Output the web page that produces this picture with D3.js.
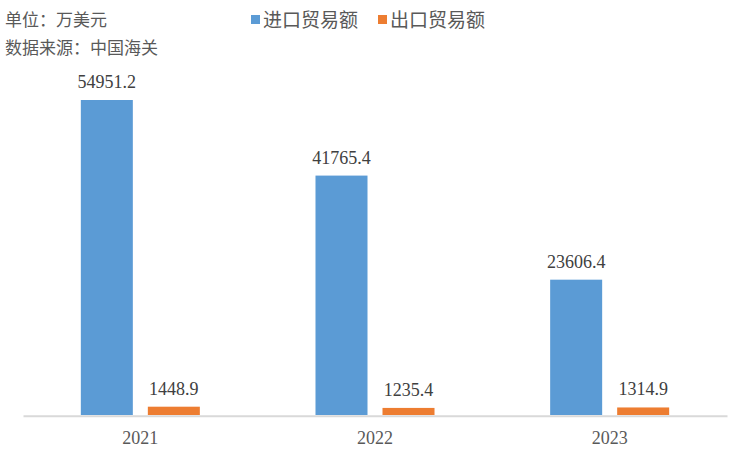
<!DOCTYPE html>
<html>
<head>
<meta charset="utf-8">
<script src="https://cdn.jsdelivr.net/npm/d3@7"></script>
<style>
  html, body { margin: 0; padding: 0; background: #fff; }
  svg { display: block; }
</style>
</head>
<body>
<svg id="chart" width="750" height="451"></svg>
<script>
const categories = ["2021", "2022", "2023"];
const seriesNames = ["进口贸易额", "出口贸易额"];
const importValues = [54951.2, 41765.4, 23606.4];
const exportValues = [1448.9, 1235.4, 1314.9];
const seriesColors = ["#5B9BD5", "#ED7D31"];
const unitText = "单位：万美元";
const sourceText = "数据来源：中国海关";

const svg = d3.select("#chart");
const cjk = "'Microsoft YaHei','Noto Sans CJK SC','Noto Sans',sans-serif";
const serif = "'Liberation Serif','Times New Roman',serif";

const x0 = d3.scaleBand().domain(categories).range([23, 727]).paddingInner(0).paddingOuter(0);
const x1 = d3.scaleBand().domain(seriesNames).range([0, x0.bandwidth()])
  .paddingInner(15 / 67).paddingOuter(0.863);
const y = d3.scaleLinear().domain([0, 60000]).range([415, 415 - 60000 * 315 / 54951.2]);

const data = categories.map((c, i) => ({
  cat: c,
  vals: [
    { s: seriesNames[0], v: importValues[i], color: seriesColors[0] },
    { s: seriesNames[1], v: exportValues[i], color: seriesColors[1] }
  ]
}));

const g = svg.append("g");
const groups = g.selectAll("g.grp").data(data).join("g")
  .attr("class", "grp")
  .attr("transform", d => `translate(${x0(d.cat)},0)`);

groups.selectAll("rect").data(d => d.vals).join("rect")
  .attr("x", d => x1(d.s))
  .attr("width", x1.bandwidth())
  .attr("y", d => y(d.v))
  .attr("height", d => y(0) - y(d.v))
  .attr("fill", d => d.color);

groups.selectAll("text.val").data(d => d.vals).join("text")
  .attr("class", "val")
  .attr("x", d => x1(d.s) + x1.bandwidth() / 2)
  .attr("y", d => y(d.v) - 12)
  .attr("text-anchor", "middle")
  .style("font-family", serif)
  .style("font-size", "18px")
  .attr("fill", "#404040")
  .text(d => d.v.toFixed(1));

// x axis
const xAxis = d3.axisBottom(x0).tickSize(0).tickPadding(0);
const ax = svg.append("g").attr("transform", "translate(0,415.7)").call(xAxis);
ax.select(".domain").attr("stroke", "#D9D9D9").attr("stroke-width", 2);
ax.selectAll(".tick text")
  .attr("y", 28.3)
  .attr("dy", 0)
  .style("font-family", serif)
  .style("font-size", "18px")
  .attr("fill", "#595959");

// header texts
svg.append("text").attr("x", 5).attr("y", 26)
  .style("font-family", cjk).style("font-size", "17px").attr("fill", "#595959")
  .text(unitText);
svg.append("text").attr("x", 5).attr("y", 54)
  .style("font-family", cjk).style("font-size", "17px").attr("fill", "#595959")
  .text(sourceText);

// legend
const legendX = [251, 378];
const leg = svg.append("g");
seriesNames.forEach((s, i) => {
  leg.append("rect").attr("x", legendX[i]).attr("y", 15).attr("width", 9).attr("height", 9)
    .attr("fill", seriesColors[i]);
  leg.append("text").attr("x", legendX[i] + 12).attr("y", 27)
    .style("font-family", cjk).style("font-size", "19px").attr("fill", "#595959")
    .text(s);
});
</script>
</body>
</html>
